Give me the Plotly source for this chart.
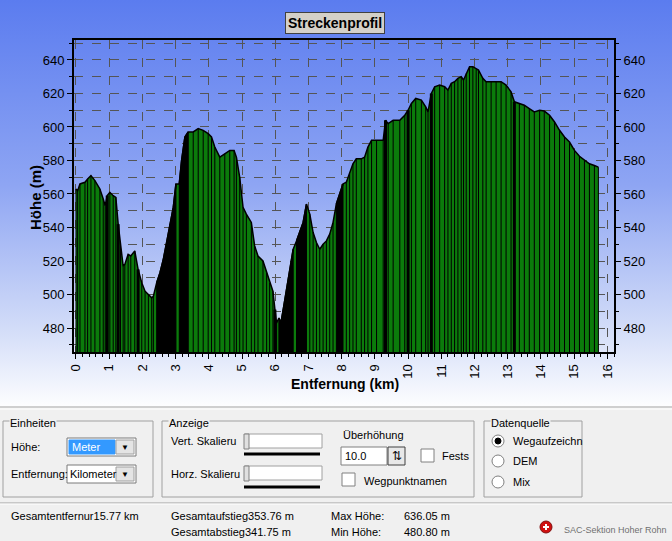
import base64
import plotly.graph_objects as go

# elevation profile
dist_km = [0.00, 0.05, 0.12, 0.27, 0.35, 0.45, 0.57, 0.72, 0.82, 0.88, 0.94, 1.02, 1.12, 1.20,
           1.27, 1.34, 1.42, 1.47, 1.57, 1.65, 1.77, 1.87, 1.98, 2.08, 2.18, 2.28, 2.33, 2.43,
           2.53, 2.63, 2.73, 2.83, 2.93, 3.01, 3.11, 3.18, 3.28, 3.38, 3.53, 3.68, 3.83, 3.98,
           4.08, 4.18, 4.33, 4.48, 4.63, 4.76, 4.83, 4.93, 5.03, 5.13, 5.28, 5.38, 5.48, 5.63,
           5.74, 5.83, 5.93, 5.99, 6.04, 6.11, 6.17, 6.24, 6.34, 6.44, 6.54, 6.64, 6.74, 6.84,
           6.94, 7.04, 7.14, 7.24, 7.34, 7.44, 7.54, 7.64, 7.74, 7.84, 7.94, 8.04, 8.14, 8.24,
           8.34, 8.44, 8.59, 8.69, 8.79, 8.90, 9.05, 9.25, 9.32, 9.40, 9.55, 9.75, 9.90, 10.00,
           10.10, 10.23, 10.40, 10.53, 10.60, 10.70, 10.80, 10.95, 11.10, 11.20, 11.30, 11.40,
           11.50, 11.60, 11.67, 11.75, 11.85, 11.95, 12.05, 12.12, 12.25, 12.35, 12.50, 12.65,
           12.80, 12.95, 13.10, 13.20, 13.35, 13.50, 13.65, 13.80, 13.96, 14.10, 14.26, 14.41,
           14.56, 14.71, 14.86, 15.01, 15.16, 15.31, 15.46, 15.61, 15.73]
height_m = [563, 562, 566, 567, 569, 571, 568, 563, 557, 553, 559, 561, 559, 558,
            542, 531, 517, 518, 524, 523, 526, 515, 507, 502, 500, 498, 499, 507,
            513, 521, 531, 542, 552, 566, 566, 580, 594, 597, 597, 599, 598, 596,
            594, 588, 582, 584, 586, 586, 582, 570, 552, 548, 543, 529, 523, 520,
            513, 507, 502, 491, 483, 486, 483, 491, 503, 515, 527, 532, 538, 543,
            554, 548, 537, 531, 527, 530, 532, 536, 543, 554, 560, 566, 567, 572,
            578, 581, 581, 582, 588, 592, 592, 592, 604, 602, 604, 604, 607, 610,
            614, 617, 616, 612, 609, 620, 624, 625, 624, 622, 626, 627,
            629, 630, 628, 632, 636, 636, 634.5, 634, 629, 627, 627, 627,
            627, 625, 621, 615, 614, 613, 611, 609, 610, 609.5, 607, 603,
            598, 594, 591, 586, 582.5, 580, 578, 577, 576]

x_ticks = list(range(0, 17))
y_ticks = [480, 500, 520, 540, 560, 580, 600, 620, 640]

total_km = 15.77
ascent_m = 353.76
descent_m = 341.75
max_h = 636.05
min_h = 480.80

# stretches where the track points lie so close that the bars merge to black
dense_ranges = [(2.43, 3.01), (3.11, 3.38), (6.11, 6.54), (6.64, 6.94), (7.84, 8.04)]
heavy_x = [0.94, 1.27, 1.87, 5.99, 9.32, 10.00, 10.70, 13.20]

Y_MIN, Y_MAX = 465.7, 651.9
GREEN = "#0b7b0b"
FONT = "Liberation Sans"
PANEL = "#f0f0f0"
UI = 11

# pixel -> paper helpers (plot area is 540x312 at left=74, top=40)
L, T, PW, PH = 74, 40, 540, 312


def px(x):
    return (x - L) / PW


def py(y):
    return (T + PH - y) / PH


fig = go.Figure()

# profile area
fig.add_trace(go.Scatter(x=dist_km, y=height_m, fill="tozeroy", fillcolor=GREEN,
                         mode="lines", line=dict(color="black", width=1.5),
                         hoverinfo="skip", showlegend=False))

for a, b in dense_ranges:
    xs = [d for d in dist_km if a <= d <= b]
    ys = [h for d, h in zip(dist_km, height_m) if a <= d <= b]
    fig.add_trace(go.Scatter(x=xs, y=ys, fill="tozeroy", fillcolor="black", mode="lines",
                             line=dict(color="black", width=1.5),
                             hoverinfo="skip", showlegend=False))

# vertical lines at every track point
vx, vy = [], []
for d, h in zip(dist_km, height_m):
    vx += [d, d, None]
    vy += [Y_MIN, h, None]
fig.add_trace(go.Scatter(x=vx, y=vy, mode="lines", line=dict(color="black", width=1),
                         hoverinfo="skip", showlegend=False))

hx, hy = [], []
for d, h in zip(dist_km, height_m):
    if d in heavy_x:
        hx += [d, d, None]
        hy += [Y_MIN, h, None]
fig.add_trace(go.Scatter(x=hx, y=hy, mode="lines", line=dict(color="black", width=3),
                         hoverinfo="skip", showlegend=False))

# dummy trace so the right axis is drawn
fig.add_trace(go.Scatter(x=[dist_km[0]], y=[height_m[0]], yaxis="y2", mode="markers",
                         marker=dict(opacity=0), hoverinfo="skip", showlegend=False))

# background gradient
svg = ('<svg xmlns="http://www.w3.org/2000/svg" width="672" height="410" '
       'preserveAspectRatio="none"><defs><linearGradient id="g" x1="0" y1="0" x2="0" y2="1">'
       '<stop offset="0" stop-color="#5b7cef"/><stop offset="0.45" stop-color="#8ea5f3"/>'
       '<stop offset="0.8" stop-color="#d2dcf8"/><stop offset="1" stop-color="#ffffff"/>'
       '</linearGradient></defs><rect width="672" height="410" fill="url(#g)"/></svg>')
src = "data:image/svg+xml;base64," + base64.b64encode(svg.encode()).decode()

shapes = []


def rect(x0, y0, x1, y1, fill=None, line="#a0a0a0", width=1, kind="rect"):
    shapes.append(dict(type=kind, xref="paper", yref="paper", x0=px(x0), x1=px(x1),
                       y0=py(y0), y1=py(y1), fillcolor=fill if fill else "rgba(0,0,0,0)",
                       line=dict(color=line, width=width), layer="above"))


def hline(x0, x1, y, color, width=1):
    shapes.append(dict(type="line", xref="paper", yref="paper", x0=px(x0), x1=px(x1),
                       y0=py(y), y1=py(y), line=dict(color=color, width=width), layer="above"))


annotations = []


def text(x, y, s, size=UI, color="black", anchor="left", bg=None, **kw):
    annotations.append(dict(x=px(x), y=py(y), xref="paper", yref="paper", text=s,
                            showarrow=False, xanchor=anchor, yanchor="middle",
                            font=dict(family=FONT, size=size, color=color),
                            bgcolor=bg, borderpad=0, **kw))


# bottom panel
rect(0, 408, 672, 541, fill=PANEL, line=PANEL, width=0)
hline(0, 672, 407, "#a0a0a0")
hline(0, 672, 409, "#ffffff")
hline(0, 672, 503, "#a0a0a0")
hline(0, 672, 504, "#ffffff")

# group boxes
rect(3, 421, 153, 497)
rect(162, 421, 474, 497)
rect(484, 421, 582, 497)
text(9, 423, "Einheiten", bg=PANEL)
text(168, 423, "Anzeige", bg=PANEL)
text(490, 423, "Datenquelle", bg=PANEL)

# Einheiten
text(10, 447, "Höhe:")
rect(67, 438, 136, 456, fill="white", line="#7a7a7a")
rect(69, 440, 115, 454, fill="#3399ff", line="#3399ff")
text(71, 447, "Meter", color="white")
rect(116, 440, 134, 454, fill="#e4e4e4", line="#a0a0a0")
text(125, 447, "▼", size=8, anchor="center")
text(10, 474, "Entfernung:")
rect(67, 465, 136, 483, fill="white", line="#7a7a7a")
text(69, 474, "Kilometer")
rect(116, 467, 134, 481, fill="#e4e4e4", line="#a0a0a0")
text(125, 474, "▼", size=8, anchor="center")

# Anzeige
text(170, 441, "Vert. Skalieru")
rect(245, 434, 322, 448, fill="white", line="#a0a0a0")
rect(244, 434, 249, 449, fill="#e0e0e0", line="#808080")
hline(244, 320, 454, "black", 3)
text(170, 474, "Horz. Skalieru")
rect(245, 466, 322, 480, fill="white", line="#a0a0a0")
rect(244, 466, 249, 481, fill="#e0e0e0", line="#808080")
hline(244, 320, 487, "black", 3)

text(342, 435, "Überhöhung")
rect(341, 447, 387, 465, fill="white", line="#808080")
text(344, 456, "10.0")
rect(388, 447, 405, 465, fill="#e8e8e8", line="#404040")
text(396.5, 456, "⇅", size=12, anchor="center")
rect(421, 449, 434, 462, fill="white", line="#808080")
text(441, 456, "Fests")
rect(342, 473, 355, 486, fill="white", line="#808080")
text(363, 481, "Wegpunktnamen")

# Datenquelle
for yy, label in [(441, "Wegaufzeichn"), (461, "DEM"), (482, "Mix")]:
    rect(492, yy - 6, 504, yy + 6, fill="white", line="#808080", kind="circle")
    text(512, yy, label)
rect(495, 438, 501, 444, fill="black", line="black", kind="circle")

# status line
text(10, 516, f"Gesamtentfernur{total_km:.2f} km")
text(170, 516, f"Gesamtaufstieg{ascent_m:.2f} m")
text(170, 532, f"Gesamtabstieg{descent_m:.2f} m")
text(330, 516, "Max Höhe:")
text(403, 516, f"{max_h:.2f} m")
text(330, 532, "Min Höhe:")
text(403, 532, f"{min_h:.2f} m")

# small club emblem
rect(540, 521, 552, 533, fill="#d01010", line="#801010", kind="circle")
hline(543, 549, 527, "white", 2)
shapes.append(dict(type="line", xref="paper", yref="paper", x0=px(546), x1=px(546),
                   y0=py(524), y1=py(530), line=dict(color="white", width=2), layer="above"))
text(563, 530, "SAC-Sektion Hoher Rohn", size=9, color="#707070")

# title and axis titles
annotations.append(dict(x=px(335), y=py(23), xref="paper", yref="paper",
                        xanchor="center", yanchor="middle",
                        text="<b>Streckenprofil</b>", showarrow=False,
                        font=dict(family=FONT, size=14, color="black"),
                        bgcolor="#d4d0c8", bordercolor="#404040", borderwidth=1, borderpad=2))
annotations.append(dict(x=px(35), y=py(198), xref="paper", yref="paper",
                        xanchor="center", yanchor="middle",
                        text="<b>Höhe (m)</b>", showarrow=False, textangle=-90,
                        font=dict(family=FONT, size=15, color="black")))
annotations.append(dict(x=px(345), y=py(384), xref="paper", yref="paper",
                        xanchor="center", yanchor="middle",
                        text="<b>Entfernung (km)</b>", showarrow=False,
                        font=dict(family=FONT, size=14, color="black")))

grid = dict(gridcolor="#555555", griddash="dash", gridwidth=1)

fig.update_layout(
    width=672, height=541,
    margin=dict(l=L, r=672 - L - PW, t=T, b=541 - T - PH),
    paper_bgcolor="white", plot_bgcolor="rgba(0,0,0,0)",
    images=[dict(source=src, xref="paper", yref="paper", x=px(0), y=py(0),
                 sizex=672 / PW, sizey=410 / PH, xanchor="left", yanchor="top",
                 sizing="stretch", layer="below")],
    shapes=shapes, annotations=annotations,
    xaxis=dict(range=[-0.06, 16.2], tickvals=x_ticks, tickangle=-90,
               ticks="outside", ticklen=5, tickcolor="black",
               showline=True, linecolor="black", linewidth=2, mirror=True,
               showgrid=True, zeroline=False, **grid,
               minor=dict(dtick=0.2, ticks="outside", ticklen=3, tickcolor="black"),
               tickfont=dict(family=FONT, size=13, color="black")),
    yaxis=dict(range=[Y_MIN, Y_MAX], tickvals=y_ticks, ticks="outside", ticklen=5,
               tickcolor="black", showline=True, linecolor="black", linewidth=2,
               showgrid=True, zeroline=False, **grid,
               minor=dict(dtick=10, ticks="outside", ticklen=3, tickcolor="black",
                          showgrid=True, **grid),
               tickfont=dict(family=FONT, size=13, color="black")),
    yaxis2=dict(range=[Y_MIN, Y_MAX], overlaying="y", side="right", tickvals=y_ticks,
                ticks="outside", ticklen=5, tickcolor="black", showline=True,
                linecolor="black", linewidth=2, showgrid=False, zeroline=False,
                minor=dict(dtick=10, ticks="outside", ticklen=3, tickcolor="black"),
                tickfont=dict(family=FONT, size=13, color="black")),
)

# drop the default page margin so the figure fills the window exactly
fig.write_html("out.html", config={"displayModeBar": False},
               post_script="document.body.style.margin='0';")
